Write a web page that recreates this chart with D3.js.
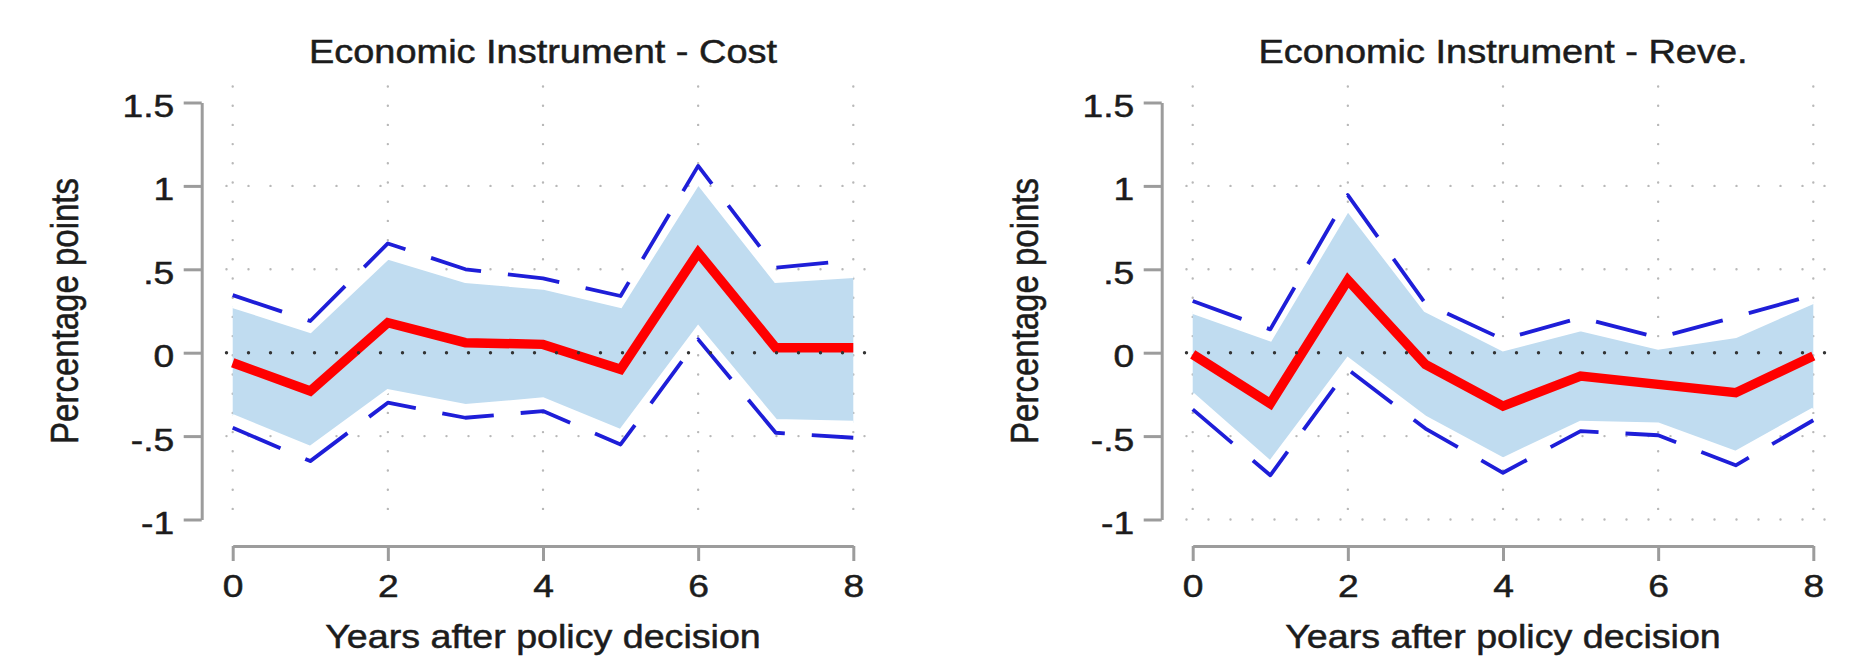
<!DOCTYPE html>
<html><head><meta charset="utf-8">
<script src="https://cdn.jsdelivr.net/npm/d3@7"></script>
<style>html,body{margin:0;padding:0;background:#fff;} svg{display:block;}</style>
</head><body>
<svg id="chart" width="1867" height="666"></svg>
<script>
// ---- data ----
const years = [0, 1, 2, 3, 4, 5, 6, 7, 8];
const xTicks = [0, 2, 4, 6, 8];
const yTicks = [-1, -0.5, 0, 0.5, 1, 1.5];
const yTickLabels = ["-1", "-.5", "0", ".5", "1", "1.5"];
const titles = ["Economic Instrument - Cost", "Economic Instrument - Reve."];
const xTitle = "Years after policy decision";
const yTitle = "Percentage points";

// Panel 1: Cost
const costEst    = [-0.06, -0.23, 0.18, 0.06, 0.05, -0.10, 0.60, 0.03, 0.03];
const costBandHi = [0.28, 0.13, 0.57, 0.43, 0.39, 0.28, 1.02, 0.43, 0.46];
const costBandLo = [-0.38, -0.57, -0.23, -0.32, -0.28, -0.47, 0.15, -0.41, -0.42];
const costDashHi = [0.345, 0.19, 0.655, 0.50, 0.445, 0.34, 1.12, 0.51, 0.555];
const costDashLo = [-0.45, -0.65, -0.30, -0.39, -0.35, -0.55, 0.08, -0.48, -0.51];
const costGridY  = [1, 0.5, -0.5];

// Panel 2: Revenue
const reveEst    = [-0.01, -0.305, 0.435, -0.07, -0.32, -0.14, -0.19, -0.24, -0.02];
const reveBandHi = [0.245, 0.08, 0.86, 0.255, 0.02, 0.14, 0.03, 0.10, 0.305];
const reveBandLo = [-0.25, -0.66, -0.04, -0.39, -0.64, -0.42, -0.43, -0.60, -0.34];
const reveDashHi = [0.31, 0.14, 0.945, 0.295, 0.08, 0.21, 0.09, 0.215, 0.345];
const reveDashLo = [-0.34, -0.735, -0.10, -0.455, -0.72, -0.47, -0.495, -0.675, -0.405];
const reveGridY  = [1, 0.5, -0.5, -1];

// ---- drawing ----
const svg = d3.select("#chart");
const FONT = "'Liberation Sans', Arial, Helvetica, sans-serif";
const TXT = "#1c1c1c";
const AXC = "#9c9c9c";

const panels = [
  {dx: 0, title: titles[0], est: costEst, bandHi: costBandHi, bandLo: costBandLo, dashHi: costDashHi, dashLo: costDashLo, gridY: costGridY},
  {dx: 960, title: titles[1], est: reveEst, bandHi: reveBandHi, bandLo: reveBandLo, dashHi: reveDashHi, dashLo: reveDashLo, gridY: reveGridY}
];

function styleText(sel, size) {
  sel.attr("fill", TXT).attr("stroke", TXT).attr("stroke-width", 0.5)
    .style("font-family", FONT).style("font-size", size + "px");
}

panels.forEach(p => {
  const g = svg.append("g").attr("transform", `translate(${p.dx},0)`);
  const x = d3.scaleLinear().domain([0, 8]).range([232.7, 853.3]);
  const y = d3.scaleLinear().domain([-1, 1.5]).range([519.5, 102.5]);

  // grid
  g.selectAll(".vgrid").data(xTicks).join("line").attr("class", "vgrid")
    .attr("x1", d => x(d)).attr("x2", d => x(d)).attr("y1", 86.5).attr("y2", 528)
    .attr("stroke", "#b8b8b8").attr("stroke-width", 2.4).attr("stroke-linecap", "round")
    .attr("stroke-dasharray", "0,19.2");
  g.selectAll(".hgrid").data(p.gridY).join("line").attr("class", "hgrid")
    .attr("x1", 226.5).attr("x2", 872).attr("y1", d => y(d)).attr("y2", d => y(d))
    .attr("stroke", "#b8b8b8").attr("stroke-width", 2.4).attr("stroke-linecap", "round")
    .attr("stroke-dasharray", "0,22");

  // band
  const area = d3.area().x((d, i) => x(years[i])).y0((d, i) => y(p.bandLo[i])).y1((d, i) => y(p.bandHi[i]));
  g.append("path").datum(years).attr("d", area).attr("fill", "#c0dcf0");
  const mk = arr => d3.line().x((d, i) => x(years[i])).y((d, i) => y(arr[i]))(years);
  [p.bandHi, p.bandLo].forEach(arr => {
    g.append("path").attr("d", mk(arr)).attr("fill", "none").attr("stroke", "#fff").attr("stroke-width", 4);
  });

  // dashed CI
  [p.dashHi, p.dashLo].forEach(arr => {
    g.append("path").attr("d", mk(arr)).attr("fill", "none").attr("stroke", "#1e1ed8")
      .attr("stroke-width", 3.8).attr("stroke-dasharray", "52,27").attr("stroke-linejoin", "round");
  });

  // estimate
  g.append("path").attr("d", mk(p.est)).attr("fill", "none").attr("stroke", "#ff0000")
    .attr("stroke-width", 9.5).attr("stroke-linejoin", "miter").attr("stroke-miterlimit", 6);

  // zero line
  g.append("line").attr("x1", 226.5).attr("x2", 872).attr("y1", y(0)).attr("y2", y(0))
    .attr("stroke", "#333").attr("stroke-width", 3.4).attr("stroke-linecap", "round")
    .attr("stroke-dasharray", "0,22");

  // y axis
  const ya = g.append("g").attr("transform", "translate(201.7,0)")
    .call(d3.axisLeft(y).tickValues(yTicks).tickFormat((d, i) => yTickLabels[i]).tickSize(18).tickSizeOuter(0).tickPadding(0));
  ya.select(".domain").attr("stroke", AXC).attr("stroke-width", 3);
  ya.selectAll(".tick line").attr("stroke", AXC).attr("stroke-width", 3);
  ya.selectAll(".tick text").attr("x", 0).attr("y", 0).attr("dy", null)
    .attr("transform", "translate(-27.5,14) scale(1.2,1)").attr("text-anchor", "end")
    .call(styleText, 31);

  // x axis
  const xa = g.append("g").attr("transform", "translate(0,546)")
    .call(d3.axisBottom(x).tickValues(xTicks).tickFormat(d3.format("d")).tickSize(15).tickSizeOuter(0).tickPadding(0));
  xa.select(".domain").attr("stroke", AXC).attr("stroke-width", 3);
  xa.selectAll(".tick line").attr("stroke", AXC).attr("stroke-width", 3);
  xa.selectAll(".tick text").attr("x", 0).attr("y", 0).attr("dy", null)
    .attr("transform", "translate(0,51) scale(1.2,1)").attr("text-anchor", "middle")
    .call(styleText, 31);

  // titles
  g.append("text").attr("transform", "translate(543,62.5) scale(1.15,1)").attr("text-anchor", "middle")
    .call(styleText, 33).text(p.title);
  g.append("text").attr("transform", "translate(543,648) scale(1.14,1)").attr("text-anchor", "middle")
    .call(styleText, 33).text(xTitle);
  g.append("text").attr("transform", "translate(78,311) scale(1.15,1) rotate(-90)").attr("text-anchor", "middle")
    .call(styleText, 33).text(yTitle);
});
</script>
</body></html>
